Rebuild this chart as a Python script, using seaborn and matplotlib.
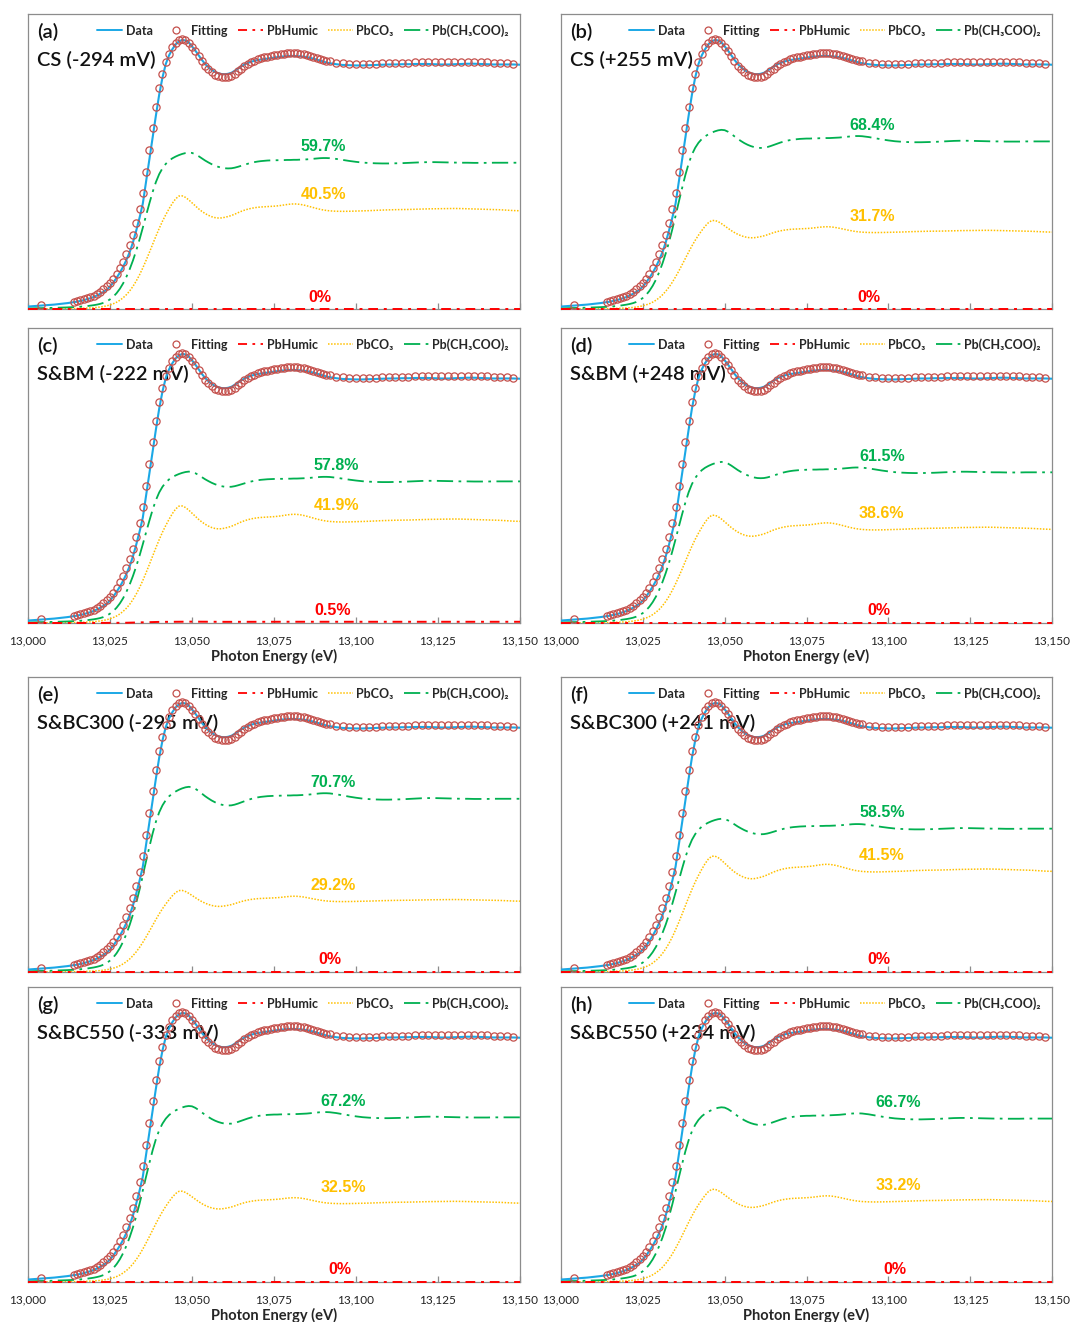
import numpy as np
import pandas as pd
import matplotlib
matplotlib.use("Agg")
import matplotlib.pyplot as plt
import seaborn as sns
from matplotlib.lines import Line2D
from matplotlib.ticker import FuncFormatter

# ---------------- data ----------------
energy = np.concatenate([[13000, 13004, 13008, 13012],
                         np.arange(13014, 13093, 1),
                         np.arange(13094, 13151, 2)]).astype(float)

data_mu = [0.010, 0.014, 0.018, 0.024,
           0.028, 0.030, 0.033, 0.036, 0.040, 0.044, 0.049, 0.055, 0.062, 0.070,
           0.078, 0.092, 0.108, 0.127, 0.148, 0.172, 0.200, 0.232, 0.272, 0.320,
           0.372, 0.430, 0.520, 0.610, 0.700, 0.790, 0.875, 0.945, 1.000, 1.035,
           1.060, 1.080, 1.092, 1.098, 1.096, 1.088, 1.072, 1.055, 1.036, 1.017,
           1.000, 0.987, 0.976, 0.968, 0.962, 0.959, 0.958, 0.960, 0.964, 0.972,
           0.981, 0.990, 0.998, 1.004, 1.009, 1.013, 1.016, 1.018, 1.020, 1.022,
           1.024, 1.026, 1.028, 1.030, 1.031, 1.032, 1.033, 1.033, 1.032, 1.031,
           1.030, 1.028, 1.025, 1.022, 1.018, 1.014, 1.010, 1.006, 1.003,
           0.999, 0.996, 0.995, 0.994, 0.994, 0.995, 0.996, 0.997, 0.998, 0.998,
           0.999, 0.999, 1.000, 1.000, 1.000, 0.999, 0.998, 0.998, 0.999, 1.000,
           1.001, 1.001, 1.000, 0.999, 0.998, 0.998, 0.998, 0.998, 0.997]

nan = np.nan
fit_mu = [nan, 0.016, nan, nan,
          0.030, 0.033, 0.036, 0.040, 0.044, 0.049, 0.055, 0.062, 0.070, 0.080,
          0.092, 0.106, 0.123, 0.143, 0.166, 0.193, 0.224, 0.260, 0.302, 0.352,
          0.408, 0.472, 0.560, 0.650, 0.740, 0.825, 0.900, 0.960, 1.008, 1.042,
          1.068, 1.086, 1.097, 1.101, 1.097, 1.086, 1.070, 1.051, 1.031, 1.011,
          0.993, 0.978, 0.966, 0.957, 0.951, 0.948, 0.947, 0.948, 0.952, 0.960,
          0.970, 0.981, 0.991, 1.000, 1.008, 1.014, 1.019, 1.023, 1.027, 1.030,
          1.033, 1.036, 1.038, 1.040, 1.042, 1.043, 1.044, 1.044, 1.043, 1.041,
          1.039, 1.036, 1.033, 1.029, 1.025, 1.021, 1.017, 1.014, 1.011,
          1.006, 1.002, 1.000, 0.999, 0.999, 1.000, 1.001, 1.002, 1.003, 1.004,
          1.005, 1.006, 1.007, 1.008, 1.009, 1.009, 1.009, 1.009, 1.009, 1.009,
          1.009, 1.008, 1.008, 1.007, 1.006, 1.005, 1.003, 1.001, nan]

ref_pbac = [0.004, 0.006, 0.008, 0.011,
            0.013, 0.014, 0.016, 0.018, 0.020, 0.023, 0.026, 0.030, 0.035, 0.042,
            0.052, 0.066, 0.084, 0.108, 0.138, 0.175, 0.220, 0.272, 0.332, 0.400,
            0.475, 0.556, 0.640, 0.722, 0.800, 0.868, 0.922, 0.962, 0.992, 1.014,
            1.030, 1.042, 1.052, 1.060, 1.066, 1.069, 1.067, 1.058, 1.045, 1.030,
            1.015, 1.002, 0.990, 0.980, 0.972, 0.966, 0.962, 0.961, 0.962, 0.966,
            0.972, 0.979, 0.986, 0.993, 0.999, 1.004, 1.008, 1.011, 1.013, 1.015,
            1.016, 1.017, 1.017, 1.018, 1.018, 1.019, 1.019, 1.020, 1.020, 1.021,
            1.022, 1.023, 1.025, 1.027, 1.029, 1.031, 1.032, 1.032, 1.031,
            1.026, 1.019, 1.012, 1.006, 1.001, 0.998, 0.996, 0.995, 0.995, 0.996,
            0.997, 0.999, 1.001, 1.003, 1.004, 1.004, 1.003, 1.002, 1.001, 1.000,
            1.000, 0.999, 0.999, 0.999, 1.000, 1.000, 1.000, 1.000, 1.000]

ref_pbco3 = [0.000, 0.001, 0.002, 0.004,
             0.005, 0.006, 0.007, 0.008, 0.009, 0.011, 0.013, 0.016, 0.020, 0.025,
             0.032, 0.041, 0.053, 0.068, 0.088, 0.113, 0.144, 0.182, 0.228, 0.282,
             0.344, 0.414, 0.490, 0.570, 0.652, 0.734, 0.812, 0.885, 0.950, 1.010,
             1.065, 1.110, 1.138, 1.140, 1.125, 1.100, 1.070, 1.040, 1.010, 0.984,
             0.962, 0.944, 0.930, 0.921, 0.917, 0.918, 0.924, 0.932, 0.942, 0.955,
             0.970, 0.984, 0.996, 1.006, 1.014, 1.020, 1.025, 1.028, 1.030, 1.032,
             1.034, 1.036, 1.039, 1.043, 1.048, 1.053, 1.057, 1.059, 1.058, 1.054,
             1.048, 1.040, 1.031, 1.022, 1.013, 1.005, 0.998, 0.993, 0.989,
             0.985, 0.984, 0.985, 0.987, 0.989, 0.991, 0.994, 0.997, 0.999, 1.001,
             1.002, 1.003, 1.005, 1.007, 1.009, 1.010, 1.011, 1.012, 1.013, 1.012,
             1.010, 1.008, 1.006, 1.004, 1.002, 1.000, 0.996, 0.992, 0.990]

humic_energy = [13000, 13020, 13030, 13040, 13050, 13060, 13080, 13100, 13150]
ref_humic = [0.00, 0.02, 0.20, 0.90, 1.10, 0.95, 1.02, 1.00, 1.00]

panel_tags = ["(a)", "(b)", "(c)", "(d)", "(e)", "(f)", "(g)", "(h)"]
panel_names = ["CS (-294 mV)", "CS (+255 mV)", "S&BM (-222 mV)", "S&BM (+248 mV)",
               "S&BC300 (-295 mV)", "S&BC300 (+241 mV)", "S&BC550 (-333 mV)",
               "S&BC550 (+234 mV)"]
w_humic = [0.0, 0.0, 0.5, 0.0, 0.0, 0.0, 0.0, 0.0]
w_pbco3 = [40.5, 31.7, 41.9, 38.6, 29.2, 41.5, 32.5, 33.2]
w_pbac = [59.7, 68.4, 57.8, 61.5, 70.7, 58.5, 67.2, 66.7]
label_energy = [13090, 13095, 13094, 13098, 13093, 13098, 13096, 13103]
tick_values = [13000, 13025, 13050, 13075, 13100, 13125, 13150]

assert len(energy) == len(data_mu) == len(fit_mu) == len(ref_pbac) == len(ref_pbco3)

# ---------------- style ----------------
sns.set_style("white")
plt.rcParams["font.family"] = ["Lato", "DejaVu Sans"]
plt.rcParams["axes.edgecolor"] = "#8c8c8c"
plt.rcParams["axes.linewidth"] = 0.9

C_DATA = "#1BA8E6"
C_FIT = "#C4504C"
C_HUM = "#FF0000"
C_CO3 = "#FFC000"
C_AC = "#00B050"
LS_HUM = (0, (5, 3, 1.5, 3))
LS_AC = (0, (9, 3, 1.5, 3))
LS_CO3 = (0, (1, 1))

fig = plt.figure(figsize=(10.7, 13.22), dpi=100)
W, H = 1070, 1322
col_left = [28, 561]
col_width = [492, 491]
row_top = [14, 328, 677, 987]
ax_h = 295

fmt = FuncFormatter(lambda v, p: f"{int(round(v)):,}")

for i in range(8):
    r, c = divmod(i, 2)
    left = col_left[c] / W
    bottom = 1 - (row_top[r] + ax_h) / H
    ax = fig.add_axes([left, bottom, col_width[c] / W, ax_h / H])

    f_h = w_humic[i] / 100.0
    f_c = w_pbco3[i] / 100.0
    f_a = w_pbac[i] / 100.0

    df = pd.DataFrame({"energy": energy, "data": data_mu, "fit": fit_mu,
                       "pbco3": np.array(ref_pbco3) * f_c,
                       "pbac": np.array(ref_pbac) * f_a})
    dh = pd.DataFrame({"energy": humic_energy, "humic": np.array(ref_humic) * f_h})
    dfit = df.dropna(subset=["fit"])

    sns.lineplot(data=dh, x="energy", y="humic", ax=ax, color=C_HUM,
                 linestyle=LS_HUM, linewidth=1.4, zorder=7, clip_on=False)
    sns.lineplot(data=df, x="energy", y="pbco3", ax=ax, color=C_CO3,
                 linestyle=LS_CO3, linewidth=1.1, zorder=3)
    sns.lineplot(data=df, x="energy", y="pbac", ax=ax, color=C_AC,
                 linestyle=LS_AC, linewidth=1.3, zorder=4)
    sns.lineplot(data=df, x="energy", y="data", ax=ax, color=C_DATA,
                 linewidth=1.5, zorder=5)
    sns.lineplot(data=dfit, x="energy", y="fit", ax=ax, linestyle="",
                 marker="o", markersize=5.2, markerfacecolor="none",
                 markeredgecolor=C_FIT, markeredgewidth=0.9, color=C_FIT, zorder=6)

    ax.set_xlim(13000, 13150)
    ax.set_ylim(0, 1.204)
    ax.set_yticks([])
    ax.set_xticks(tick_values)
    ax.xaxis.set_major_formatter(fmt)
    show = r in (1, 3)
    ax.tick_params(axis="x", direction="in", length=4, width=0.9, color="#8c8c8c",
                   bottom=True, labelbottom=show, labelsize=8.5, pad=9,
                   labelcolor="#222222")
    ax.set_ylabel("")
    if show:
        ax.set_xlabel("Photon Energy (eV)", fontsize=10.5, fontweight="bold",
                      labelpad=2)
    else:
        ax.set_xlabel("")
    for s in ax.spines.values():
        s.set_visible(True)
        s.set_color("#8c8c8c")

    # panel tags and names
    ax.text(0.018, 0.94, panel_tags[i], transform=ax.transAxes, fontsize=14.5,
            fontweight="semibold", ha="left", va="center", color="#111111")
    ax.text(0.018, 0.845, panel_names[i], transform=ax.transAxes, fontsize=14.5,
            fontweight="semibold", ha="left", va="center", color="#111111")

    # percentage labels
    pct_font = ["Liberation Sans", "DejaVu Sans"]
    ax.annotate(f"{w_pbac[i]:.1f}%", xy=(label_energy[i], f_a), xytext=(0, 16),
                textcoords="offset pixels", ha="center", va="center",
                color=C_AC, fontsize=11.5, fontweight="bold", family=pct_font)
    ax.annotate(f"{w_pbco3[i]:.1f}%", xy=(label_energy[i], f_c), xytext=(0, 15),
                textcoords="offset pixels", ha="center", va="center",
                color=C_CO3, fontsize=11.5, fontweight="bold", family=pct_font)
    hum_txt = "0%" if w_humic[i] == 0 else f"{w_humic[i]:.1f}%"
    ax.annotate(hum_txt, xy=(label_energy[i] - 1, 0), xytext=(0, 12),
                textcoords="offset pixels", ha="center", va="center",
                color=C_HUM, fontsize=11.5, fontweight="bold", family=pct_font)

    handles = [
        Line2D([], [], color=C_DATA, linewidth=1.4),
        Line2D([], [], linestyle="", marker="o", markersize=5,
               markerfacecolor="none", markeredgecolor=C_FIT, markeredgewidth=0.9),
        Line2D([], [], color=C_HUM, linestyle=LS_HUM, linewidth=1.3),
        Line2D([], [], color=C_CO3, linestyle=LS_CO3, linewidth=1.1),
        Line2D([], [], color=C_AC, linestyle=LS_AC, linewidth=1.3),
    ]
    labels = ["Data", "Fitting", "PbHumic", "PbCO₃", "Pb(CH₃COO)₂"]
    ax.legend(handles, labels, loc="upper right", bbox_to_anchor=(0.995, 0.995),
              ncol=5, frameon=False, handlelength=2.0, handletextpad=0.25,
              columnspacing=0.85, borderaxespad=0.3,
              prop={"size": 9, "weight": "bold", "family": ["Lato", "DejaVu Sans"]})

fig.savefig("out.png", dpi=100)
